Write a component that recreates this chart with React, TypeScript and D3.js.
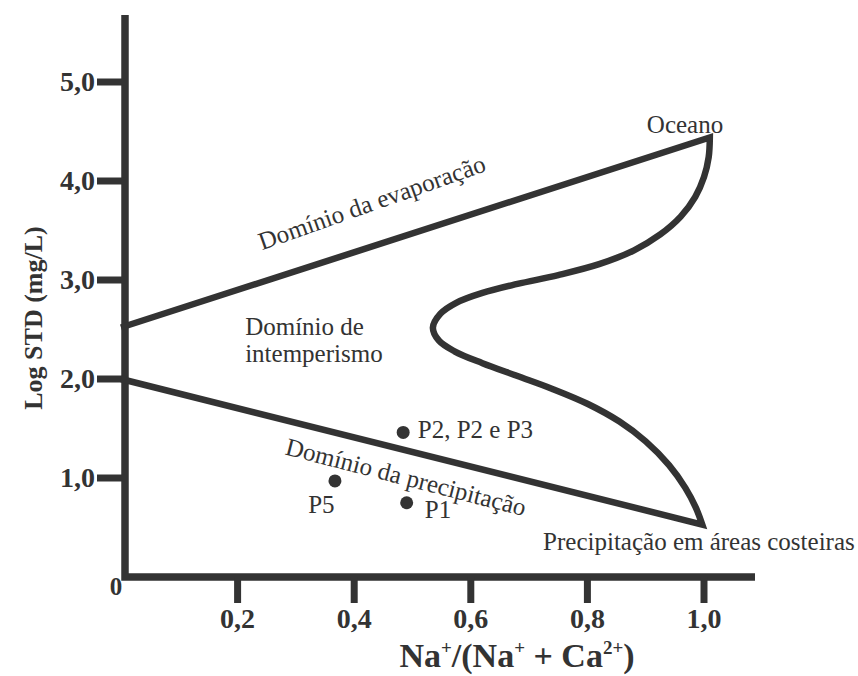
import React, { useEffect, useRef } from 'react';
import * as d3 from 'd3';

// Diagrama de Gibbs: Log STD x Na+/(Na+ + Ca2+)
const xTicks = [0.2, 0.4, 0.6, 0.8, 1.0];
const yTicks = [1, 2, 3, 4, 5];

// limite superior (domínio da evaporação)
const upperLine: [number, number][] = [[0, 2.52], [1.01, 4.44]];
// curva do oceano até precipitação em áreas costeiras
const boomerang: [number, number][] = [
  [1.01, 4.44], [1.008, 4.24], [1.0, 4.04], [0.985, 3.84], [0.96, 3.64],
  [0.925, 3.46], [0.88, 3.3], [0.82, 3.16], [0.75, 3.05], [0.68, 2.96],
  [0.62, 2.87], [0.575, 2.77], [0.548, 2.66], [0.535, 2.52], [0.545, 2.39],
  [0.572, 2.28], [0.62, 2.16], [0.68, 2.03], [0.74, 1.9], [0.8, 1.75],
  [0.855, 1.57], [0.9, 1.37], [0.94, 1.13], [0.968, 0.9], [0.986, 0.7],
  [0.997, 0.53]
];
// limite inferior (domínio da precipitação)
const lowerLine: [number, number][] = [[0.997, 0.53], [0, 2.0]];

const samples = [
  { name: 'P2, P2 e P3', x: 0.484, y: 1.46 },
  { name: 'P5', x: 0.367, y: 0.97 },
  { name: 'P1', x: 0.49, y: 0.75 }
];

const labels = [
  { text: 'Oceano', x: 0.902, y: 4.485, rotate: 0 },
  { text: 'Precipitação em áreas costeiras', x: 0.724, y: 0.273, rotate: 0 },
  { text: 'Domínio de', x: 0.213, y: 2.444, rotate: 0 },
  { text: 'intemperismo', x: 0.213, y: 2.172, rotate: 0 },
  { text: 'P2, P2 e P3', x: 0.509, y: 1.404, rotate: 0 },
  { text: 'P5', x: 0.321, y: 0.646, rotate: 0 },
  { text: 'P1', x: 0.521, y: 0.596, rotate: 0 },
  { text: 'Domínio da evaporação', x: 0.242, y: 3.3, rotate: -19.5 },
  { text: 'Domínio da precipitação', x: 0.28, y: 1.24, rotate: 14.5 }
];

const width = 858;
const height = 676;
const ink = '#333';
const font = '"Liberation Serif", "Times New Roman", serif';

export default function App() {
  const svgRef = useRef<SVGSVGElement>(null);

  useEffect(() => {
    const svg = d3.select(svgRef.current);
    svg.selectAll('*').remove();

    const x = d3.scaleLinear().domain([0, 1]).range([121, 704]);
    const y = d3.scaleLinear().domain([0, 1]).range([577, 478]);
    const xAxisEnd = 755;
    const yAxisTop = 15;
    const axisX = x(0) + 4;

    // eixos
    svg.append('path')
      .attr('d', `M${axisX},${yAxisTop}V${y(0)}H${xAxisEnd}`)
      .attr('fill', 'none')
      .attr('stroke', ink)
      .attr('stroke-width', 7.5)
      .attr('stroke-linejoin', 'miter');

    svg.selectAll('.ytick')
      .data(yTicks)
      .enter()
      .append('line')
      .attr('x1', axisX - 28)
      .attr('x2', axisX)
      .attr('y1', (d) => y(d))
      .attr('y2', (d) => y(d))
      .attr('stroke', ink)
      .attr('stroke-width', 7);

    svg.selectAll('.xtick')
      .data(xTicks)
      .enter()
      .append('line')
      .attr('x1', (d) => x(d))
      .attr('x2', (d) => x(d))
      .attr('y1', y(0))
      .attr('y2', y(0) + 26)
      .attr('stroke', ink)
      .attr('stroke-width', 7);

    const fmt = (d: number) => d.toFixed(1).replace('.', ',');

    svg.selectAll('.ylabel')
      .data(yTicks)
      .enter()
      .append('text')
      .attr('x', axisX - 30)
      .attr('y', (d) => y(d) + 9)
      .attr('text-anchor', 'end')
      .attr('font-family', font)
      .attr('font-weight', 'bold')
      .attr('font-size', 28)
      .attr('fill', ink)
      .text(fmt);

    svg.selectAll('.xlabel')
      .data(xTicks)
      .enter()
      .append('text')
      .attr('x', (d) => x(d))
      .attr('y', y(0) + 51)
      .attr('text-anchor', 'middle')
      .attr('font-family', font)
      .attr('font-weight', 'bold')
      .attr('font-size', 28)
      .attr('fill', ink)
      .text(fmt);

    svg.append('text')
      .attr('x', x(0) - 5)
      .attr('y', y(0) + 18)
      .attr('text-anchor', 'middle')
      .attr('font-family', font)
      .attr('font-weight', 'bold')
      .attr('font-size', 25)
      .attr('fill', ink)
      .text('0');

    // títulos dos eixos
    const xTitle = svg.append('text')
      .attr('x', 517)
      .attr('y', 667)
      .attr('text-anchor', 'middle')
      .attr('font-family', font)
      .attr('font-weight', 'bold')
      .attr('font-size', 34)
      .attr('fill', ink);
    xTitle.append('tspan').text('Na');
    xTitle.append('tspan').attr('dy', -13).attr('font-size', 19).text('+');
    xTitle.append('tspan').attr('dy', 13).text('/(Na');
    xTitle.append('tspan').attr('dy', -13).attr('font-size', 19).text('+');
    xTitle.append('tspan').attr('dy', 13).text(' + Ca');
    xTitle.append('tspan').attr('dy', -13).attr('font-size', 19).text('2+');
    xTitle.append('tspan').attr('dy', 13).text(')');

    svg.append('text')
      .attr('transform', `translate(42,${318}) rotate(-90)`)
      .attr('text-anchor', 'middle')
      .attr('font-family', font)
      .attr('font-weight', 'bold')
      .attr('font-size', 26)
      .attr('fill', ink)
      .text('Log STD (mg/L)');

    // envelope do diagrama
    const straight = d3.line<[number, number]>()
      .x((d) => x(d[0]))
      .y((d) => y(d[1]));
    const curved = d3.line<[number, number]>()
      .x((d) => x(d[0]))
      .y((d) => y(d[1]))
      .curve(d3.curveCatmullRom);

    const pathD = (straight(upperLine) || '')
      + (curved(boomerang) || '').replace(/^M/, 'L')
      + (straight(lowerLine) || '').replace(/^M/, 'L');

    svg.append('path')
      .attr('d', pathD)
      .attr('fill', 'none')
      .attr('stroke', ink)
      .attr('stroke-width', 6.5)
      .attr('stroke-linejoin', 'miter')
      .attr('stroke-miterlimit', 10);

    // amostras
    svg.selectAll('.sample')
      .data(samples)
      .enter()
      .append('circle')
      .attr('cx', (d) => x(d.x))
      .attr('cy', (d) => y(d.y))
      .attr('r', 6.5)
      .attr('fill', ink);

    svg.selectAll('.label')
      .data(labels)
      .enter()
      .append('text')
      .attr('transform', (d) => `translate(${x(d.x)},${y(d.y)}) rotate(${d.rotate})`)
      .attr('font-family', font)
      .attr('font-size', 25)
      .attr('fill', ink)
      .text((d) => d.text);
  }, []);

  return (
    <div style={{ position: 'absolute', left: 0, top: 0 }}>
      <svg ref={svgRef} width={width} height={height} style={{ display: 'block', background: '#fff' }} />
    </div>
  );
}
